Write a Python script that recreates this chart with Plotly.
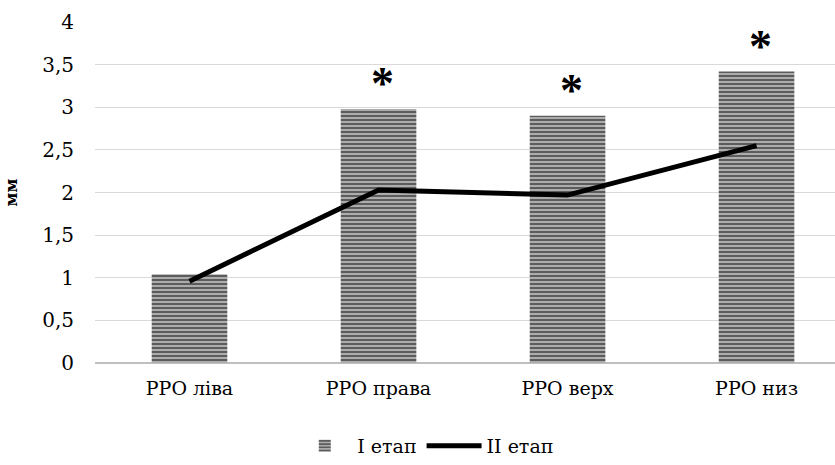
import plotly.graph_objects as go

categories = ["РРО ліва", "РРО права", "РРО верх", "РРО низ"]
stage1 = [1.04, 2.98, 2.90, 3.42]
stage2 = [0.96, 2.03, 1.97, 2.55]
significant = [False, True, True, True]
y_ticks = [0, 0.5, 1, 1.5, 2, 2.5, 3, 3.5, 4]

FONT = "DejaVu Serif"

fig = go.Figure()
fig.add_trace(go.Bar(
    x=categories, y=stage1, name="I етап", width=0.4,
    marker=dict(color="#a0a0a0", line=dict(width=0),
                pattern=dict(shape="-", fgcolor="#5c5c5c", bgcolor="#acacac",
                             size=4, solidity=0.5, fillmode="replace")),
))
fig.add_trace(go.Scatter(
    x=categories, y=stage2, name="II етап", mode="lines",
    line=dict(color="black", width=5),
))

for cat, v, s in zip(categories, stage1, significant):
    if s:
        fig.add_annotation(x=cat, y=v + 0.39, text="<b>*</b>", showarrow=False,
                           xshift=4, yshift=-8,
                           font=dict(family="Liberation Serif", size=46, color="black"))

fig.update_layout(
    width=835, height=465,
    margin=dict(l=95, r=0, t=22, b=97),
    paper_bgcolor="white", plot_bgcolor="white",
    separators=", ",
    font=dict(family=FONT, size=19, color="black"),
    bargap=0.6,
    showlegend=True,
    legend=dict(orientation="h", x=0.447, xanchor="center", y=-0.243, yanchor="middle",
                font=dict(family=FONT, size=19, color="black"), itemwidth=55,
                traceorder="normal"),
    xaxis=dict(range=[-0.5, 3.415], showgrid=False, showline=False, ticks="",
               ticklabelstandoff=12, tickfont=dict(family=FONT, size=19)),
    yaxis=dict(range=[0, 4], tickvals=y_ticks, showgrid=True, gridcolor="#d9d9d9",
               gridwidth=1, zeroline=True, zerolinecolor="#bfbfbf", zerolinewidth=2,
               ticks="", ticklabelstandoff=20, tickfont=dict(family=FONT, size=20),
               title=dict(text="<b>мм</b>", font=dict(family=FONT, size=16), standoff=20)),
)

fig.write_html("out.html")
